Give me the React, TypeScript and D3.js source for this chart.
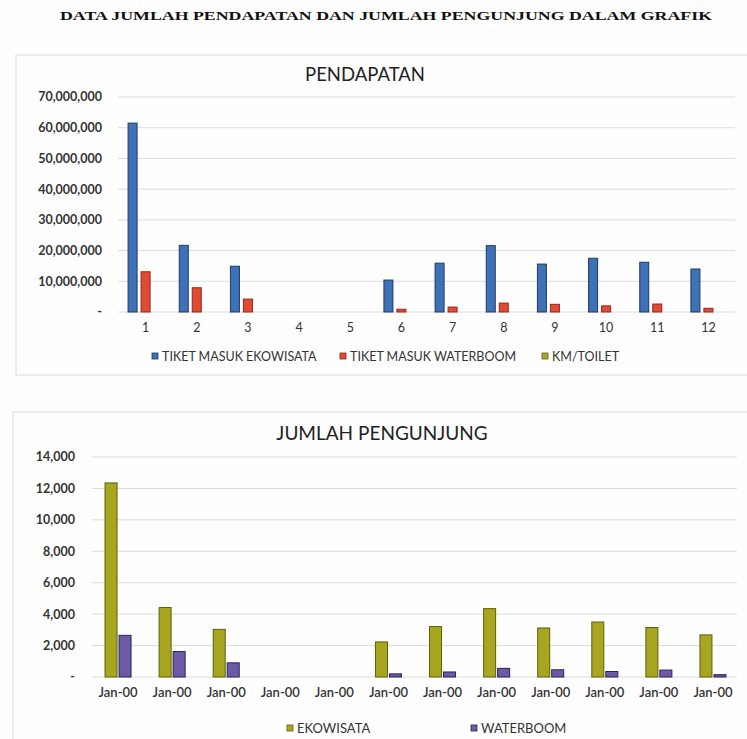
import React from "react";
import * as d3 from "d3";

const months = ["1", "2", "3", "4", "5", "6", "7", "8", "9", "10", "11", "12"];
const revenueSeries = ["TIKET MASUK EKOWISATA", "TIKET MASUK WATERBOOM", "KM/TOILET"];
const tiketEkowisata = [61500000, 21700000, 14900000, 0, 0, 10400000, 15900000, 21600000, 15600000, 17500000, 16200000, 14000000];
const tiketWaterboom = [13100000, 7900000, 4200000, 0, 0, 900000, 1600000, 2900000, 2500000, 2000000, 2600000, 1200000];
const kmToilet = [0, 0, 0, 0, 0, 0, 0, 0, 0, 0, 0, 0];
const revenueTicks = [0, 10000000, 20000000, 30000000, 40000000, 50000000, 60000000, 70000000];

const visitorLabels = ["Jan-00", "Jan-00", "Jan-00", "Jan-00", "Jan-00", "Jan-00", "Jan-00", "Jan-00", "Jan-00", "Jan-00", "Jan-00", "Jan-00"];
const visitorSeries = ["EKOWISATA", "WATERBOOM"];
const pengunjungEkowisata = [12350, 4420, 3030, 0, 0, 2230, 3210, 4350, 3120, 3500, 3150, 2680];
const pengunjungWaterboom = [2650, 1620, 900, 0, 0, 200, 320, 550, 460, 350, 440, 150];
const visitorTicks = [0, 2000, 4000, 6000, 8000, 10000, 12000, 14000];

const revenueColors = [
  { fill: "#3e71b6", stroke: "#1d3a6b" },
  { fill: "#e14a34", stroke: "#962717" },
  { fill: "#a7a62a", stroke: "#66650f" },
];
const visitorColors = [
  { fill: "#a7a71f", stroke: "#5e5e0a" },
  { fill: "#6c5aa6", stroke: "#2a2258" },
];

const FONT = "Lato, 'Open Sans', sans-serif";
const fmt = d3.format(",");
const tickLabel = (v: number) => (v === 0 ? "-" : fmt(v));

export default function App() {
  // ---------- Top chart: PENDAPATAN ----------
  const y1 = d3.scaleLinear().domain([0, 70000000]).range([312, 97]);
  const x1 = d3.scaleBand<string>().domain(months).range([120, 734]);
  const idx1 = months.map((_, i) => i);
  const sub1 = d3
    .scaleBand<string>()
    .domain(revenueSeries)
    .range([-19.5, 19.5])
    .paddingInner(4 / 13)
    .paddingOuter(2 / 13);
  const revData = [tiketEkowisata, tiketWaterboom, kmToilet];

  // ---------- Bottom chart: JUMLAH PENGUNJUNG ----------
  const y2 = d3.scaleLinear().domain([0, 14000]).range([677, 457]);
  const x2 = d3.scaleBand<string>().domain(idx1.map(String)).range([91, 740]);
  const sub2 = d3
    .scaleBand<string>()
    .domain(visitorSeries)
    .range([-14, 14])
    .paddingInner(2 / 14)
    .paddingOuter(1 / 14);
  const visData = [pengunjungEkowisata, pengunjungWaterboom];

  return (
    <svg
      width={747}
      height={739}
      style={{ position: "absolute", left: 0, top: 0, background: "#ffffff" }}
      fontFamily={FONT}
    >
      <rect x={0} y={0} width={747} height={739} fill="#fefefe" />
      {/* main heading */}
      <text
        x={60}
        y={20}
        fontFamily="'Liberation Serif', 'Times New Roman', serif"
        fontWeight={700}
        fontSize={13}
        fill="#111"
        textLength={652}
        lengthAdjust="spacingAndGlyphs"
      >
        DATA JUMLAH PENDAPATAN DAN JUMLAH PENGUNJUNG DALAM GRAFIK
      </text>

      {/* Top chart frame */}
      <rect x={16} y={55} width={760} height={320} fill="none" stroke="#dadada" strokeWidth={1} />
      <text x={365} y={81} textAnchor="middle" fontSize={18.5} fill="#222">
        PENDAPATAN
      </text>
      {revenueTicks.map((t) => (
        <g key={"g1" + t}>
          <line x1={118} x2={735} y1={y1(t)} y2={y1(t)} stroke="#dcdcdc" strokeWidth={1} />
          <text
            x={102}
            y={y1(t)}
            dy="0.35em"
            textAnchor="end"
            fontSize={12.5}
            fontWeight={700}
            fill="#333"
          >
            {tickLabel(t)}
          </text>
        </g>
      ))}
      {revData.map((vals, s) =>
        vals.map((v, i) =>
          v > 0 ? (
            <rect
              key={`r1-${s}-${i}`}
              x={(x1(months[i]) as number) + x1.bandwidth() / 2 + (sub1(revenueSeries[s]) as number)}
              y={y1(v)}
              width={sub1.bandwidth()}
              height={y1(0) - y1(v)}
              fill={revenueColors[s].fill}
              stroke={revenueColors[s].stroke}
              strokeWidth={1}
            />
          ) : null
        )
      )}
      {months.map((m) => (
        <text
          key={"xl1" + m}
          x={(x1(m) as number) + x1.bandwidth() / 2}
          y={332}
          textAnchor="middle"
          fontSize={12.5}
          fill="#333"
        >
          {m}
        </text>
      ))}
      {revenueSeries.map((s, i) => {
        const lx = [152, 340, 542][i];
        return (
          <g key={"lg1" + s}>
            <rect x={lx} y={353} width={6} height={6} fill={revenueColors[i].fill} stroke={revenueColors[i].stroke} strokeWidth={0.8} />
            <text x={lx + 10} y={360.5} fontSize={12.5} fill="#333">
              {s}
            </text>
          </g>
        );
      })}

      {/* Bottom chart frame */}
      <rect x={13} y={412} width={760} height={340} fill="none" stroke="#dadada" strokeWidth={1} />
      <text x={382} y={440} textAnchor="middle" fontSize={19} fill="#222">
        JUMLAH PENGUNJUNG
      </text>
      {visitorTicks.map((t) => (
        <g key={"g2" + t}>
          <line x1={92} x2={737} y1={y2(t)} y2={y2(t)} stroke="#dcdcdc" strokeWidth={1} />
          <text
            x={75}
            y={y2(t)}
            dy="0.35em"
            textAnchor="end"
            fontSize={12.5}
            fontWeight={700}
            fill="#333"
          >
            {tickLabel(t)}
          </text>
        </g>
      ))}
      {visData.map((vals, s) =>
        vals.map((v, i) =>
          v > 0 ? (
            <rect
              key={`r2-${s}-${i}`}
              x={(x2(String(i)) as number) + x2.bandwidth() / 2 + (sub2(visitorSeries[s]) as number)}
              y={y2(v)}
              width={sub2.bandwidth()}
              height={y2(0) - y2(v)}
              fill={visitorColors[s].fill}
              stroke={visitorColors[s].stroke}
              strokeWidth={1}
            />
          ) : null
        )
      )}
      {visitorLabels.map((m, i) => (
        <text
          key={"xl2" + i}
          x={(x2(String(i)) as number) + x2.bandwidth() / 2}
          y={697}
          textAnchor="middle"
          fontSize={13}
          fontWeight={600}
          fill="#333"
        >
          {m}
        </text>
      ))}
      {visitorSeries.map((s, i) => {
        const lx = [287, 471][i];
        return (
          <g key={"lg2" + s}>
            <rect x={lx} y={725} width={6} height={6} fill={visitorColors[i].fill} stroke={visitorColors[i].stroke} strokeWidth={0.8} />
            <text x={lx + 10} y={733} fontSize={13} fill="#333">
              {s}
            </text>
          </g>
        );
      })}
    </svg>
  );
}
